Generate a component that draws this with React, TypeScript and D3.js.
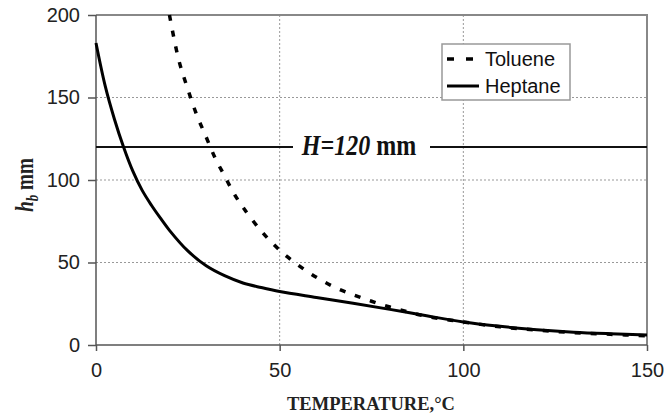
import React, { useRef, useEffect } from "react";
import * as d3 from "d3";

// temperatures (°C) and heights hb (mm)
const tolueneT = [20, 22.5, 25, 27.5, 30, 32.5, 35, 37.5, 40, 45, 50, 55, 60, 65, 70, 75, 80, 85, 90, 95, 100, 110, 120, 130, 140, 150];
const tolueneH = [200, 173, 155, 139, 126, 113, 102.5, 92, 83.5, 69, 57.5, 48.5, 41, 35, 30.5, 26.5, 23, 20, 17.3, 15.5, 14, 11, 9, 7.5, 6.5, 5.5];
const heptaneT = [0, 2.5, 5, 7.5, 10, 12.5, 15, 17.5, 20, 25, 30, 35, 40, 45, 50, 60, 70, 80, 90, 100, 110, 120, 130, 140, 150];
const heptaneH = [183, 157, 137, 120, 105.5, 94, 85, 77, 69.5, 57, 48, 42, 37.6, 34.8, 32.4, 28.8, 25.3, 21.6, 17.7, 14, 11.3, 9.3, 7.8, 6.8, 6];
const xTicks = [0, 50, 100, 150];
const yTicks = [0, 50, 100, 150, 200];
const H_LEVEL = 120;

const W = 665, HGT = 415;
const m = { left: 96, right: 18, top: 15, bottom: 70 };

function App() {
  const svgRef = useRef<SVGSVGElement>(null);

  useEffect(() => {
    const svg = d3.select(svgRef.current);
    svg.selectAll("*").remove();

    const x = d3.scaleLinear().domain([0, 150]).range([m.left, W - m.right]);
    const y = d3.scaleLinear().domain([0, 200]).range([HGT - m.bottom, m.top]);

    svg.append("rect").attr("width", W).attr("height", HGT).attr("fill", "white");

    // dotted grid
    const grid = svg.append("g").attr("stroke", "#999").attr("stroke-width", 1).attr("stroke-dasharray", "2,2");
    grid.selectAll(".gy").data(yTicks.filter(d => d > 0 && d < 200)).join("line")
      .attr("x1", x(0)).attr("x2", x(150)).attr("y1", d => y(d)).attr("y2", d => y(d));
    grid.selectAll(".gx").data(xTicks.filter(d => d > 0 && d < 150)).join("line")
      .attr("y1", y(0)).attr("y2", y(200)).attr("x1", d => x(d)).attr("x2", d => x(d));

    // border top/right
    svg.append("path")
      .attr("d", `M${x(0)},${y(200)}H${x(150)}V${y(0)}`)
      .attr("fill", "none").attr("stroke", "#888").attr("stroke-width", 2);

    // axes
    const xAxis = d3.axisBottom(x).tickValues(xTicks).tickSize(6).tickPadding(12).tickFormat(d3.format("d"));
    const yAxis = d3.axisLeft(y).tickValues(yTicks).tickSize(8).tickPadding(8).tickFormat(d3.format("d"));
    const gx = svg.append("g").attr("transform", `translate(0,${y(0)})`).call(xAxis);
    const gy = svg.append("g").attr("transform", `translate(${x(0)},0)`).call(yAxis);
    [gx, gy].forEach(g => {
      g.selectAll("path, line").attr("stroke", "#555").attr("stroke-width", 1.5);
      g.select(".domain").attr("d", g === gx ? `M${x(0)},0H${x(150)}` : `M0,${y(0)}V${y(200)}`);
      g.selectAll("text").attr("font-family", "Liberation Sans, Arial, sans-serif").attr("font-size", 20).attr("fill", "#222");
    });

    // H = 120 line with label
    svg.append("line").attr("x1", x(0)).attr("x2", x(150)).attr("y1", y(H_LEVEL)).attr("y2", y(H_LEVEL))
      .attr("stroke", "#111").attr("stroke-width", 2);
    svg.append("rect").attr("x", 293).attr("y", y(H_LEVEL) - 13).attr("width", 137).attr("height", 26).attr("fill", "white");
    const hl = svg.append("text")
      .attr("transform", `translate(359,${y(H_LEVEL) + 8}) scale(1,1.2)`)
      .attr("text-anchor", "middle").attr("font-family", "Liberation Serif, Times New Roman, serif")
      .attr("font-weight", "bold").attr("font-size", 24).attr("fill", "#111");
    hl.append("tspan").attr("font-style", "italic").text(`H=${H_LEVEL}`);
    hl.append("tspan").text(" mm");

    // curves
    const lineGen = (xs: number[], ys: number[]) =>
      d3.line<number>().x((_, i) => x(xs[i])).y((_, i) => y(ys[i])).curve(d3.curveCatmullRom.alpha(0.5))(xs);

    svg.append("path").attr("d", lineGen(heptaneT, heptaneH))
      .attr("fill", "none").attr("stroke", "#000").attr("stroke-width", 3);
    svg.append("path").attr("d", lineGen(tolueneT, tolueneH))
      .attr("fill", "none").attr("stroke", "#000").attr("stroke-width", 3.5).attr("stroke-dasharray", "6,10");

    // legend
    const lg = svg.append("g");
    lg.append("rect").attr("x", 442).attr("y", 44).attr("width", 128).attr("height", 56)
      .attr("fill", "white").attr("stroke", "#999").attr("stroke-width", 1.5);
    lg.append("line").attr("x1", 447).attr("x2", 479).attr("y1", 59).attr("y2", 59)
      .attr("stroke", "#000").attr("stroke-width", 3.5).attr("stroke-dasharray", "7,12");
    lg.append("line").attr("x1", 447).attr("x2", 479).attr("y1", 86).attr("y2", 86)
      .attr("stroke", "#000").attr("stroke-width", 3);
    lg.selectAll(".lt").data(["Toluene", "Heptane"]).join("text")
      .attr("x", 485).attr("y", (_, i) => 66 + i * 27)
      .attr("font-family", "Liberation Sans, Arial, sans-serif").attr("font-size", 20).attr("fill", "#111")
      .text(d => d);

    // axis titles
    svg.append("text").attr("x", 371).attr("y", 410).attr("text-anchor", "middle")
      .attr("font-family", "Liberation Serif, Times New Roman, serif").attr("font-weight", "bold")
      .attr("font-size", 18.5).attr("fill", "#222").text("TEMPERATURE,°C");

    const yt = svg.append("text").attr("transform", `translate(33,185) rotate(-90) scale(1,1.3)`).attr("text-anchor", "middle")
      .attr("font-family", "Liberation Serif, Times New Roman, serif").attr("font-weight", "bold")
      .attr("font-size", 19).attr("fill", "#222");
    yt.append("tspan").attr("font-style", "italic").text("h");
    yt.append("tspan").attr("font-style", "italic").attr("font-size", 13).attr("dy", 4).text("b");
    yt.append("tspan").attr("dy", -4).text("  mm");
  }, []);

  return (
    <div style={{ position: "absolute", left: 0, top: 0 }}>
      <svg ref={svgRef} width={W} height={HGT} />
    </div>
  );
}

export default App;
